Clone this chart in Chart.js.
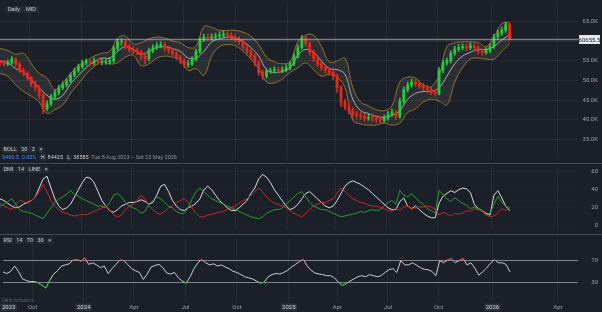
<!DOCTYPE html>
<html>
<head>
<meta charset="utf-8">
<script src="https://cdn.jsdelivr.net/npm/chart.js@4.4.1/dist/chart.umd.min.js"></script>
<style>
  html, body { margin: 0; padding: 0; background: #1a1f28; }
  #wrap { position: relative; width: 602px; height: 312px; overflow: hidden; font-family: Roboto, "DejaVu Sans", sans-serif; }
  canvas { position: absolute; left: 0; }
  .row { position: absolute; left: 2px; font-size: 5.5px; color: #c8cdd5; white-space: nowrap; line-height: 7px; }
  .tok { display: inline-block; background: #262c36; padding: 0 1.5px; margin-right: 1.5px; border-radius: 1px; }
  .btn { position: absolute; top: 6px; height: 7px; line-height: 7px; padding: 0 3px; background: #252b35; color: #d0d4da; font-size: 5.5px; border-radius: 1px; }
  .sep { position: absolute; left: 0; width: 602px; height: 1px; background: #454b55; }
  .blue { color: #3d8bff; }
  .dim { color: #8c939d; }
</style>
</head>
<body>
<div id="wrap">
  <canvas id="price" width="602" height="163" style="top:0"></canvas>
  <canvas id="dmi" width="602" height="71" style="top:163px"></canvas>
  <canvas id="rsi" width="602" height="78" style="top:234px"></canvas>

  <div class="btn" style="left:5px">Daily</div>
  <div class="btn" style="left:23px">MID</div>

  <div class="row" style="top:146px"><span class="tok">BOLL</span><span class="tok">20</span><span class="tok">2</span><span class="tok">×</span></div>
  <div class="row" style="top:154px"><span class="blue">5460.5</span>&nbsp; <span class="blue">0.03%</span>&nbsp; <span class="tok">H</span>84425&nbsp; <span class="tok">L</span>38585&nbsp; <span class="dim">Tue 8 Aug 2023 – Sat 23 May 2026</span></div>
  <div class="sep" style="top:163px"></div>
  <div class="row" style="top:166px"><span class="tok">DMI</span><span class="tok">14</span><span class="tok">LINE</span><span class="tok">×</span></div>
  <div class="sep" style="top:234px"></div>
  <div class="row" style="top:237px"><span class="tok">RSI</span><span class="tok">14</span><span class="tok">70</span><span class="tok">30</span><span class="tok">×</span></div>
  <div class="row dim" style="top:297px; font-size:4.5px; color:#59606b">Delta Indicators</div>
</div>

<script>
// weekly candles, week 0 = 8 Aug 2023
var firstOpen = 54800;
var closes = [
  54510, 54270, 54510, 55490, 54270, 52560, 51830, 50610, 49150, 48170,
  46220, 42800, 44020, 45980, 46950, 48170, 48900, 49880, 51340, 52560,
  53540, 54510, 54760, 54510, 55000, 54760, 54760, 54760, 55000, 58170,
  59880, 59880, 58660, 57930, 57680, 57200, 56220, 55490, 57680, 58420,
  58900, 59150, 58170, 57680, 56950, 55980, 55000, 54020, 54270, 55490,
  57440, 60370, 61100, 60850, 61100, 61340, 61590, 61830, 61590, 61100,
  60610, 59880, 58420, 57440, 56220, 54510, 52070, 51100, 52320, 52560,
  52800, 52560, 52800, 53290, 54270, 56220, 58420, 60850, 59390, 57200,
  55490, 54270, 53290, 52560, 52070, 51100, 48170, 44510, 43290, 42320,
  41340, 41100, 40850, 40370, 40610, 40370, 40120, 39880, 40370, 41340,
  41830, 40850, 44760, 47680, 48900, 49630, 49150, 48660, 48170, 47680,
  46950, 46710, 52560, 54510, 55000, 56950, 57930, 58420, 58660, 58420,
  58900, 58420, 57440, 57200, 57680, 58660, 61100, 62070, 62810, 64270,
  60655.5
];
var highs = [
  55300, 55100, 55200, 56100, 55800, 54600, 53100, 52200, 51000, 49800,
  48600, 46700, 44800, 46500, 47600, 48800, 49600, 50500, 51900, 53200,
  54200, 55200, 55500, 55300, 55800, 55600, 55500, 55700, 55900, 58800,
  60600, 60700, 60300, 59300, 58600, 58300, 57800, 56800, 58300, 59100,
  59600, 59900, 59700, 58800, 58200, 57500, 56500, 55600, 55000, 56100,
  58000, 61000, 61800, 61700, 61900, 62100, 62400, 62700, 62500, 62200,
  61700, 61200, 60400, 59000, 58000, 56800, 55000, 52700, 52900, 53200,
  53500, 53400, 53500, 54000, 54900, 56900, 59100, 61500, 61300, 59900,
  57800, 56100, 54900, 53900, 53200, 52700, 51600, 48800, 45300, 44100,
  43100, 42200, 41900, 41600, 41400, 41300, 41100, 40900, 41200, 42100,
  42700, 42400, 45500, 48400, 49600, 50400, 50300, 49800, 49300, 48800,
  48300, 47600, 53300, 55200, 55800, 57600, 58700, 59200, 59400, 59300,
  59700, 59500, 59000, 58000, 58400, 59400, 61800, 62800, 63600, 64900,
  64700
];
var lows = [
  53900, 53700, 53800, 54200, 53600, 52000, 51200, 50000, 48400, 47300,
  45400, 41600, 42300, 43500, 45400, 46400, 47700, 48400, 49400, 50900,
  52100, 53100, 53900, 53800, 54000, 54100, 54000, 54100, 54200, 54600,
  57700, 59000, 58000, 57300, 56900, 56600, 55400, 54300, 55000, 57100,
  57900, 58300, 57500, 57000, 56300, 55300, 54300, 53300, 53500, 53800,
  55000, 57000, 59900, 60200, 60300, 60600, 60800, 61000, 60900, 60400,
  59900, 59200, 57800, 56700, 55500, 53700, 51300, 50300, 50600, 51800,
  51900, 51900, 52000, 52200, 52700, 53800, 55700, 58000, 58800, 56500,
  54800, 53600, 52600, 51900, 51300, 50200, 47000, 43400, 42500, 41500,
  40600, 40400, 40100, 39700, 39800, 39600, 39400, 39100, 39300, 39900,
  40900, 40100, 40400, 44200, 47100, 48300, 48500, 48000, 47500, 47000,
  46300, 46000, 46300, 52000, 53900, 54500, 56400, 57400, 57800, 57700,
  57900, 57700, 56800, 56500, 56700, 57100, 58200, 60500, 61500, 62300,
  60300
];

// Bollinger (20, 2), one reading every 2 weeks
var BAND_STEP = 2;
var bollUpper = [
  58170, 57680, 56710, 56950, 54270, 51830, 50610, 47680, 49390, 51830,
  53780, 55000, 56220, 56950, 57440, 60850, 61340, 59390, 59630, 60610,
  61100, 60850, 60120, 59630, 58420, 58660, 63780, 63540, 62810, 62810,
  62810, 62320, 61340, 59150, 55980, 54760, 54270, 54760, 59880, 61590,
  61590, 58660, 54760, 55000, 55730, 48170, 44510, 43540, 42560, 42320,
  43540, 49630, 50850, 50610, 48900, 48420, 51340, 58660, 59630, 59880,
  59880, 59630, 58660, 61100, 64510, 64760
];
var bollMid = [
  55000, 54510, 53050, 52070, 50120, 48170, 46220, 45240, 46220, 49150,
  51340, 53290, 54760, 55730, 55730, 57440, 58660, 57930, 56710, 57440,
  58420, 58660, 58170, 57440, 55730, 55730, 57440, 59880, 60610, 61100,
  60850, 59880, 58420, 56220, 52800, 52070, 52320, 53290, 56460, 57930,
  57200, 55000, 53050, 52800, 51590, 45240, 42320, 41590, 40850, 40610,
  41100, 42320, 45240, 46710, 47200, 47200, 48170, 51100, 54270, 56220,
  57200, 57930, 57930, 58660, 60370, 61590
];
var bollLower = [
  51830, 51100, 48900, 47200, 45980, 44510, 41590, 42560, 43780, 46710,
  49150, 51590, 53540, 54760, 54270, 54510, 55980, 56460, 53780, 54270,
  55730, 56220, 55980, 55240, 52560, 53050, 51340, 56220, 58660, 59150,
  58900, 57440, 55490, 53050, 49630, 49390, 50370, 52070, 53290, 54510,
  52800, 51100, 51590, 50850, 48170, 39880, 38900, 38660, 38660, 39150,
  38660, 39150, 41830, 42800, 44510, 45240, 44760, 43780, 49630, 53290,
  55490, 55730, 55490, 55490, 57440, 59390
];

// DMI 14, weekly readings
var adx = [
  30, 28, 25, 22, 20, 21, 24, 26, 28, 32, 42, 52, 55, 42, 30, 22, 18, 20, 24, 32,
  40, 48, 54, 53, 48, 38, 28, 22, 17, 15, 18, 22, 24, 26, 26, 27, 29, 27, 24, 26,
  34, 44, 46, 38, 28, 22, 18, 17, 20, 22, 25, 30, 40, 44, 40, 34, 28, 24, 20, 17,
  17, 20, 24, 28, 36, 42, 52, 57, 54, 48, 40, 34, 28, 22, 18, 20, 24, 30, 36, 38,
  34, 30, 26, 22, 20, 22, 28, 36, 44, 48, 50, 48, 46, 43, 40, 36, 32, 28, 24, 20,
  18, 18, 27, 31, 22, 19, 22, 18, 14, 11, 9, 9, 25, 33, 36, 39, 37, 40, 42, 41,
  37, 24, 19, 17, 14, 12, 34, 39, 31, 22, 17
];
var plusDI = [
  22, 24, 27, 30, 24, 18, 16, 15, 14, 12, 10, 8, 14, 20, 26, 30, 32, 35, 39, 35,
  33, 30, 28, 26, 24, 22, 22, 20, 26, 34, 36, 32, 26, 22, 20, 18, 14, 16, 24, 28,
  32, 30, 26, 22, 20, 16, 14, 14, 20, 30, 38, 42, 38, 34, 30, 28, 26, 24, 22, 20,
  18, 16, 14, 12, 10, 9, 8, 10, 14, 16, 18, 18, 20, 24, 28, 32, 36, 38, 32, 26,
  22, 20, 18, 18, 16, 14, 12, 10, 11, 12, 13, 14, 16, 15, 17, 18, 17, 18, 22, 26,
  28, 24, 39, 34, 32, 36, 31, 27, 24, 19, 17, 14, 39, 35, 30, 27, 31, 28, 25, 23,
  19, 21, 19, 16, 12, 14, 24, 33, 26, 22, 19
];
var minusDI = [
  25, 22, 20, 18, 24, 28, 27, 25, 28, 32, 38, 46, 38, 28, 22, 18, 15, 14, 12, 11,
  12, 13, 12, 14, 16, 18, 20, 22, 18, 12, 10, 12, 18, 22, 24, 28, 34, 30, 22, 18,
  14, 13, 16, 20, 22, 26, 28, 30, 26, 20, 14, 10, 10, 12, 13, 14, 15, 16, 18, 20,
  22, 25, 28, 30, 34, 38, 42, 38, 32, 28, 25, 24, 22, 20, 17, 14, 12, 10, 14, 18,
  22, 24, 26, 26, 28, 30, 36, 42, 38, 34, 30, 28, 26, 25, 23, 22, 22, 21, 19, 17,
  16, 20, 17, 21, 22, 19, 20, 21, 21, 22, 21, 18, 12, 15, 13, 11, 14, 13, 14, 17,
  16, 19, 18, 17, 13, 10, 11, 14, 19, 17, 21
];

// RSI 14, weekly readings
var rsi = [
  49, 46, 50, 60, 50, 36, 33, 31, 31, 29, 24, 19, 33, 45, 51, 60, 62, 64, 71, 72,
  69, 75, 63, 66, 62, 57, 60, 46, 55, 63, 71, 70, 63, 55, 51, 48, 35, 45, 58, 61,
  63, 57, 47, 45, 48, 38, 32, 28, 40, 55, 66, 72, 66, 62, 64, 60, 62, 58, 55, 50,
  48, 44, 40, 38, 36, 32, 28, 30, 40, 44, 46, 45, 48, 52, 58, 63, 68, 73, 60, 52,
  47, 45, 44, 42, 42, 38, 30, 24, 27, 32, 36, 40, 42, 40, 44, 42, 40, 42, 48, 53,
  55, 48, 70, 62, 62, 66, 62, 57, 54, 53, 50, 42, 70, 66, 71, 74, 66, 70, 74, 62,
  66, 56, 43, 49, 56, 65, 72, 66, 66, 63, 49
];

var priceTicks = [35000, 40000, 45000, 50000, 55000, 60000, 65000];
var dmiTicks = [0, 10, 20, 30, 40, 50, 60];
var rsiTicks = [30, 70];
var dateLabels = ['2023', 'Oct', '2024', 'Apr', 'Jul', 'Oct', '2025', 'Apr', 'Jul', 'Oct', '2026', 'Apr'];
var dateWeeks = [1.5, 7.6, 20.7, 33.6, 46.8, 60.0, 73.3, 85.7, 98.7, 111.7, 125.5, 142.3];

var X_MAX = 147.45;
var GREEN = '#27c83c', RED = '#e8261a';
var GRID = 'rgba(255,255,255,0.06)';
var TICK = '#9aa1ab';
var FONT = { family: 'Roboto', size: 6 };

var opens = closes.map(function (c, i) { return i === 0 ? firstOpen : closes[i - 1]; });
var candleColors = closes.map(function (c, i) { return c >= opens[i] ? GREEN : RED; });

function xScale(showLabels) {
  return {
    type: 'linear', min: 0, max: X_MAX, offset: false,
    afterBuildTicks: function (s) { s.ticks = dateWeeks.map(function (v) { return { value: v }; }); },
    afterFit: function (s) { s.height = showLabels ? 10 : 0; },
    grid: { color: function (c) { return c.index === 0 ? 'transparent' : GRID; }, drawTicks: false, offset: false },
    border: { display: false },
    ticks: {
      display: showLabels, padding: 2, font: FONT, maxRotation: 0, autoSkip: false,
      color: function (c) { return /^\d/.test(dateLabels[c.index]) ? '#d5d9df' : TICK; },
      showLabelBackdrop: function (c) { return /^\d/.test(dateLabels[c.index]); },
      backdropColor: '#2b313b', backdropPadding: { left: 1.5, right: 1.5, top: 0.5, bottom: 0 },
      callback: function (v, i) { return dateLabels[i]; }
    }
  };
}

function yScale(min, max, ticks, fmt, gridColor) {
  return {
    position: 'right', min: min, max: max,
    afterFit: function (s) { s.width = 20; },
    afterBuildTicks: function (s) { s.ticks = ticks.map(function (v) { return { value: v }; }); },
    grid: { color: gridColor, drawTicks: false },
    border: { display: false },
    ticks: { color: TICK, font: FONT, crossAlign: 'far', padding: 0, callback: fmt }
  };
}

var base = {
  responsive: false, animation: false, events: [],
  layout: { padding: { right: 4, left: 0, top: 0, bottom: 0 } },
  plugins: { legend: { display: false }, tooltip: { enabled: false } }
};

function opts(scales) {
  return Object.assign({}, base, { scales: scales });
}

function band(values, color, width, order, fill, bg) {
  return {
    type: 'line', data: values.map(function (v, k) { return { x: k * BAND_STEP, y: v }; }),
    borderColor: color, borderWidth: width, pointRadius: 0, tension: 0.4,
    fill: fill, backgroundColor: bg, order: order
  };
}

var lastPrice = {
  id: 'lastPrice',
  afterDraw: function (chart) {
    var ctx = chart.ctx, a = chart.chartArea;
    var v = closes[closes.length - 1];
    var y = Math.round(chart.scales.y.getPixelForValue(v)) + 0.5;
    ctx.save();
    ctx.strokeStyle = 'rgba(190,196,206,0.55)';
    ctx.lineWidth = 1.5;
    ctx.beginPath(); ctx.moveTo(0, y); ctx.lineTo(a.right + 1, y); ctx.stroke();
    ctx.fillStyle = '#e6e8eb';
    ctx.fillRect(579, y - 4.5, 21, 9);
    ctx.fillStyle = '#1a1f28';
    ctx.font = '6px Roboto';
    ctx.textAlign = 'center'; ctx.textBaseline = 'middle';
    ctx.fillText(String(v), 589.5, y + 0.5);
    ctx.restore();
  }
};

new Chart(document.getElementById('price'), {
  type: 'bar',
  data: {
    datasets: [
      { type: 'bar', data: closes.map(function (c, i) { return { x: i, y: [opens[i], c] }; }),
        backgroundColor: candleColors, barThickness: 2.2, grouped: false, order: 0 },
      { type: 'bar', data: closes.map(function (c, i) { return { x: i, y: [lows[i], highs[i]] }; }),
        backgroundColor: candleColors, barThickness: 1, grouped: false, order: 1 },
      band(bollUpper, '#95712e', 1, 4, '+2', 'rgba(150,140,120,0.14)'),
      band(bollMid, '#a9adb4', 1, 2, false, 'transparent'),
      band(bollLower, '#95712e', 1, 4, false, 'transparent')
    ]
  },
  options: opts({
    x: xScale(false),
    y: yScale(29878, 69634, priceTicks, function (v) { return (v / 1000).toFixed(1) + 'K'; }, GRID)
  }),
  plugins: [lastPrice]
});

function dmiLine(values, color) {
  return { data: values.map(function (v, i) { return { x: i, y: v }; }),
    borderColor: color, borderWidth: 1, pointRadius: 0, tension: 0 };
}

new Chart(document.getElementById('dmi'), {
  type: 'line',
  data: { datasets: [dmiLine(plusDI, '#2f9b35'), dmiLine(minusDI, '#c7282a'), dmiLine(adx, '#d9dce1')] },
  options: opts({
    x: xScale(false),
    y: yScale(-5, 65.7, dmiTicks, function (v) { return String(v); }, 'rgba(255,255,255,0.025)')
  })
});

var rsiClip = {
  id: 'rsiClip',
  beforeDatasetDraw: function (chart, args) {
    if (args.index === 0) return;
    var a = chart.chartArea, ctx = chart.ctx, y = chart.scales.y;
    ctx.save();
    ctx.beginPath();
    if (args.index === 1) {
      var p70 = y.getPixelForValue(70);
      ctx.rect(a.left, a.top, a.right - a.left, p70 - a.top);
    } else {
      var p30 = y.getPixelForValue(30);
      ctx.rect(a.left, p30, a.right - a.left, a.bottom - p30);
    }
    ctx.clip();
  },
  afterDatasetDraw: function (chart, args) {
    if (args.index !== 0) chart.ctx.restore();
  }
};

function rsiLine(color, order) {
  return { data: rsi.map(function (v, i) { return { x: i, y: v }; }),
    borderColor: color, borderWidth: 1, pointRadius: 0, tension: 0, order: order };
}

new Chart(document.getElementById('rsi'), {
  type: 'line',
  data: { datasets: [rsiLine('#c9ccd1', 2), rsiLine('#e0291c', 1), rsiLine('#2fae3a', 0)] },
  options: opts({
    x: xScale(true),
    y: yScale(-7, 112.8, rsiTicks, function (v) { return String(v); }, '#7d858f')
  }),
  plugins: [rsiClip]
});
</script>
</body>
</html>
